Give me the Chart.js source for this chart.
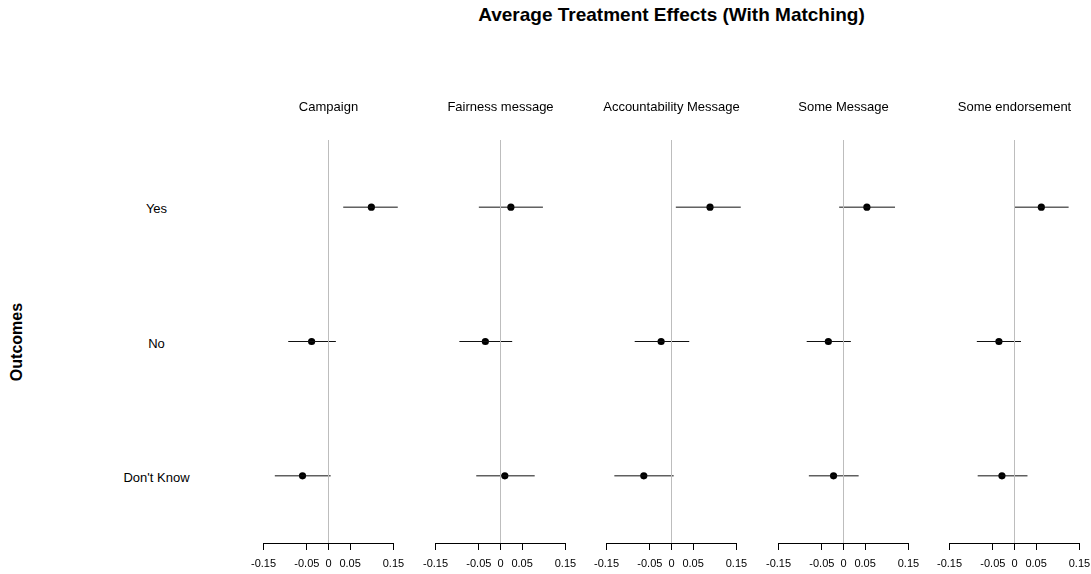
<!DOCTYPE html>
<html>
<head>
<meta charset="utf-8">
<script src="https://cdn.jsdelivr.net/npm/chart.js@4"></script>
<style>
  html, body { margin: 0; padding: 0; background: #fff; overflow: hidden; }
  body { width: 1091px; height: 574px; position: relative; font-family: "Liberation Sans", Arial, sans-serif; color: #000; }
  canvas.panel { position: absolute; top: 0; }
  .lbl { position: absolute; white-space: nowrap; transform: translate(-50%, -50%); font-size: 13px; }
  #title { font-size: 19px; font-weight: bold; }
  #ylab { font-size: 16px; font-weight: bold; transform: translate(-50%, -50%) rotate(-90deg); }
</style>
</head>
<body>
<div id="title" class="lbl" style="left:671.5px; top:15px;">Average Treatment Effects (With Matching)</div>
<div id="ylab" class="lbl" style="left:17px; top:342px;">Outcomes</div>

<script>
// Treatments shown as separate panels
const treatments = ['Campaign', 'Fairness message', 'Accountability Message', 'Some Message', 'Some endorsement'];
// Outcome rows, top to bottom
const outcomes = ['Yes', 'No', "Don't Know"];
// Tick values on every panel's x axis
const xTicks = [-0.15, -0.05, 0, 0.05, 0.15];

// Point estimates and interval bounds, one value per treatment
const yesEst  = [0.099, 0.024, 0.089, 0.054, 0.062];
const yesLow  = [0.034, -0.050, 0.010, -0.010, -0.001];
const yesHigh = [0.160, 0.098, 0.160, 0.119, 0.125];

const noEst  = [-0.039, -0.035, -0.024, -0.035, -0.036];
const noLow  = [-0.093, -0.095, -0.085, -0.085, -0.087];
const noHigh = [0.017, 0.027, 0.041, 0.017, 0.015];

const dkEst  = [-0.060, 0.010, -0.064, -0.023, -0.029];
const dkLow  = [-0.124, -0.056, -0.132, -0.080, -0.085];
const dkHigh = [0.005, 0.079, 0.005, 0.035, 0.030];

const estByRow  = [yesEst, noEst, dkEst];
const lowByRow  = [yesLow, noLow, dkLow];
const highByRow = [yesHigh, noHigh, dkHigh];

const FONT = '"Liberation Sans", Arial, sans-serif';
const PANEL_W = 171;
const PANEL_H = 574;
const PANEL_STEP = 171.6;
const FIRST_ZERO = 328.5;
const HALF_RANGE = 0.1975;

// Draws the x axis baseline only between the outermost ticks
const axisLine = {
  id: 'axisLine',
  afterDraw(chart) {
    const x = chart.scales.x;
    const y = chart.chartArea.bottom + 0.5;
    const ctx = chart.ctx;
    ctx.save();
    ctx.strokeStyle = '#000';
    ctx.lineWidth = 1;
    ctx.beginPath();
    ctx.moveTo(x.getPixelForValue(xTicks[0]), y);
    ctx.lineTo(x.getPixelForValue(xTicks[xTicks.length - 1]), y);
    ctx.stroke();
    ctx.restore();
  }
};

const charts = [];

treatments.forEach((name, p) => {
  const zero = FIRST_ZERO + PANEL_STEP * p;
  const left = Math.round(zero - PANEL_W / 2);
  const canvas = document.createElement('canvas');
  canvas.className = 'panel';
  canvas.width = PANEL_W;
  canvas.height = PANEL_H;
  canvas.style.left = left + 'px';
  canvas.style.width = PANEL_W + 'px';
  canvas.style.height = PANEL_H + 'px';
  document.body.appendChild(canvas);

  const datasets = [];
  // reference line at zero
  datasets.push({
    type: 'line',
    data: [{ x: 0, y: 0.5 }, { x: 0, y: outcomes.length + 0.5 }],
    borderColor: '#bdbdbd',
    borderWidth: 1,
    pointRadius: 0,
    fill: false
  });
  // confidence intervals
  outcomes.forEach((o, r) => {
    datasets.push({
      type: 'line',
      data: [{ x: lowByRow[r][p], y: r + 1 }, { x: highByRow[r][p], y: r + 1 }],
      borderColor: '#111',
      borderWidth: 1,
      pointRadius: 0,
      fill: false
    });
  });
  // point estimates
  datasets.push({
    type: 'scatter',
    data: outcomes.map((o, r) => ({ x: estByRow[r][p], y: r + 1 })),
    backgroundColor: '#000',
    borderWidth: 0,
    pointRadius: 3.6
  });

  const chart = new Chart(canvas, {
    type: 'scatter',
    data: { datasets },
    plugins: [axisLine],
    options: {
      responsive: false,
      animation: false,
      devicePixelRatio: 1,
      layout: { autoPadding: false, padding: { top: 140, bottom: 0, left: 0, right: 0 } },
      plugins: { legend: { display: false }, tooltip: { enabled: false }, title: { display: false } },
      scales: {
        x: {
          type: 'linear',
          min: -HALF_RANGE,
          max: HALF_RANGE,
          afterBuildTicks: (s) => { s.ticks = xTicks.map(v => ({ value: v })); },
          afterFit: (s) => { s.height = 31; s.paddingLeft = 0; s.paddingRight = 0; },
          border: { display: false },
          grid: { drawOnChartArea: false, drawTicks: true, tickLength: 7, tickColor: '#000', lineWidth: 1 },
          ticks: {
            autoSkip: false,
            maxRotation: 0,
            padding: 7,
            color: '#000',
            font: { family: FONT, size: 11 },
            callback: (v) => String(v)
          }
        },
        y: {
          type: 'linear',
          min: 0.5,
          max: outcomes.length + 0.5,
          reverse: true,
          display: false
        }
      }
    }
  });
  charts.push(chart);

  // panel heading
  const h = document.createElement('div');
  h.className = 'lbl';
  h.textContent = name;
  h.style.left = (left + chart.scales.x.getPixelForValue(0)) + 'px';
  h.style.top = '106px';
  document.body.appendChild(h);
});

// outcome labels placed on the first panel's row positions
const yScale = charts[0].scales.y;
outcomes.forEach((o, r) => {
  const d = document.createElement('div');
  d.className = 'lbl';
  d.textContent = o;
  d.style.left = '156.5px';
  d.style.top = (yScale.getPixelForValue(r + 1) + 1) + 'px';
  document.body.appendChild(d);
});
</script>
</body>
</html>
